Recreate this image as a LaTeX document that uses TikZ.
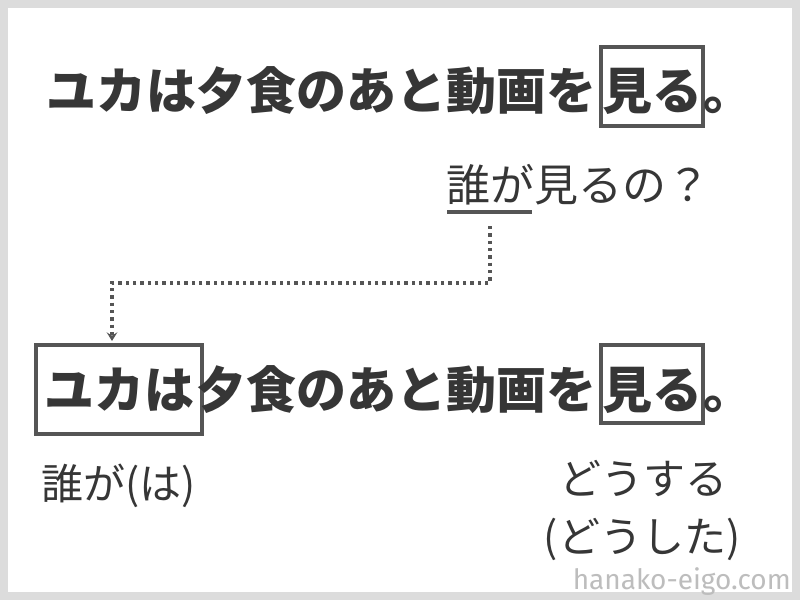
\documentclass[tikz,border=0pt]{standalone}
\usepackage{fontspec}
\setmainfont{Noto Sans CJK JP}
\newfontfamily\wmfont{Fira Sans}
\usetikzlibrary{arrows.meta}
\definecolor{txt}{HTML}{363636}
\definecolor{boxc}{HTML}{555555}
\definecolor{frame}{HTML}{DCDCDC}
\definecolor{wm}{HTML}{BDBDBD}
\tikzset{
  sent/.style={anchor=base west, inner sep=0pt, text=txt, font=\fontsize{37.5pt}{40pt}\selectfont\bfseries},
  sentbox/.style={anchor=base, inner sep=0pt, draw=boxc, line width=2.6pt, text=txt,
    font=\fontsize{37.5pt}{40pt}\selectfont\bfseries},
  qtext/.style={anchor=base west, inner sep=0pt, text=txt, font=\fontsize{33pt}{36pt}\selectfont},
  lbl/.style={inner sep=0pt, text=txt, font=\fontsize{31.5pt}{34pt}\selectfont},
  conn/.style={draw=boxc, line width=2.3pt, dash pattern=on 2.6pt off 2.9pt},
  uline/.style={draw=boxc, line width=2.8pt}
}
\begin{document}
\begin{tikzpicture}[x=0.75pt,y=-0.75pt]
\useasboundingbox (0,0) rectangle (800,600);
\fill[frame] (0,0) rectangle (800,600);
\fill[white] (8,8) rectangle (792,592);
% row 1
\node[sent] (s1a) at (46,109) {ユカは夕食のあと動画を};
\node[sentbox, minimum width=76.5pt, text height=46.5pt, text depth=12.75pt] (s1b) at (652,109) {見る};
\node[sent] (s1c) at (703,109) {。};
% question
\node[qtext] (q1) at (446,201) {誰が};
\node[qtext] (q2) at (q1.base east) {見るの？};
\draw[uline] (447,212) -- (532,212);
% row 2
\node[sentbox, minimum width=124.5pt, text height=47.25pt, text depth=19.5pt] (s2a) at (119,408) {ユカは};
\node[sent] (s2b) at (196,408) {夕食のあと動画を};
\node[sentbox, minimum width=76.5pt, text height=47.25pt, text depth=11.25pt] (s2c) at (652,408) {見る};
\node[sent] (s2d) at (703,408) {。};
% connector
\coordinate (cs) at (490,226);
\coordinate (cb) at (490,283);
\coordinate (ce) at (112,341);
\draw[conn, -{Stealth[length=6.5pt,width=8pt,inset=2.5pt]}] (cs) -- (cb) -| (ce);
% labels
\node[lbl, anchor=base west] (l1) at (41,499) {誰が(は)};
\node[lbl, anchor=base] (l2) at (643,494) {どうする};
\node[lbl, anchor=base] (l3) at (642,552) {(どうした)};
% watermark
\node[anchor=base east, inner sep=0pt, text=wm, font=\wmfont\fontsize{21pt}{24pt}\selectfont] (wmk) at (791,589) {hanako-eigo.com};
\end{tikzpicture}
\end{document}
